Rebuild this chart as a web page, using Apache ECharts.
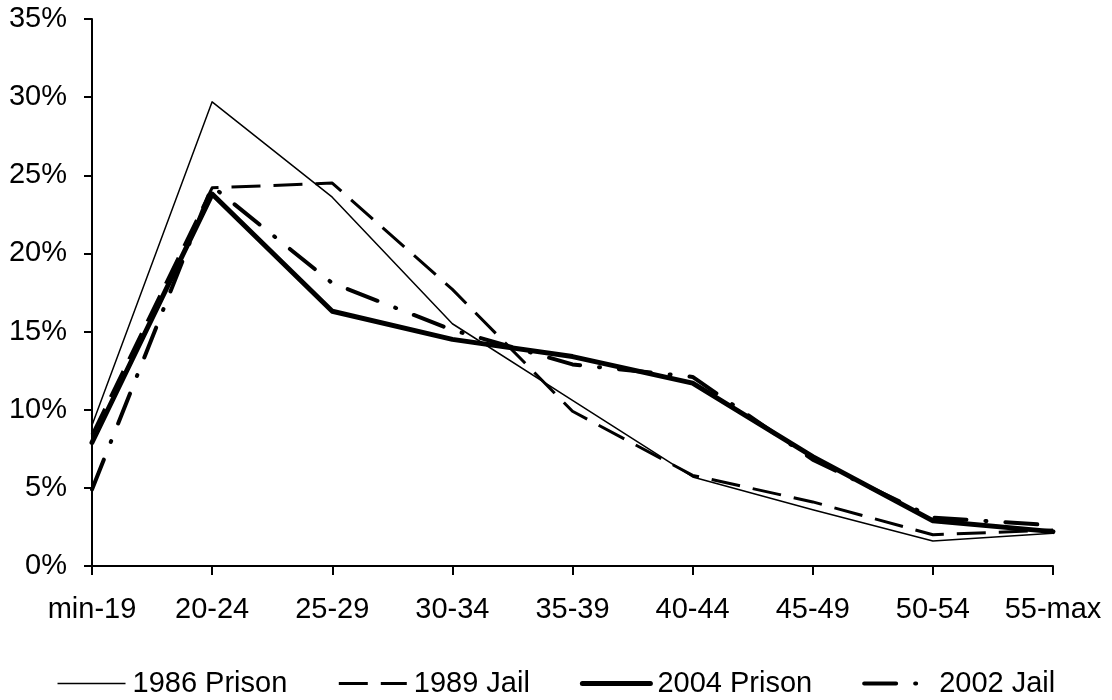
<!DOCTYPE html>
<html>
<head>
<meta charset="utf-8">
<script src="https://cdn.jsdelivr.net/npm/echarts@6/dist/echarts.min.js"></script>
<style>html,body{margin:0;padding:0;background:#fff}#c{width:1112px;height:700px}</style>
</head>
<body>
<div id="c"></div>
<script>
var categories = ['min-19','20-24','25-29','30-34','35-39','40-44','45-49','50-54','55-max'];
var prison1986 = [9.0, 29.7, 23.6, 15.5, 10.6, 5.7, 3.6, 1.6, 2.1];
var jail1989   = [8.4, 24.2, 24.5, 17.7, 9.9, 5.8, 4.1, 2.0, 2.3];
var prison2004 = [7.9, 23.8, 16.3, 14.5, 13.4, 11.7, 7.0, 2.9, 2.2];
var jail2002   = [4.9, 24.3, 18.1, 15.1, 12.9, 12.1, 6.8, 3.1, 2.6];
var seriesNames = ['1986 Prison','1989 Jail','2004 Prison','2002 Jail'];

var font = 'Liberation Sans, Arial, sans-serif';
var styles = [
  {width: 1.5, type: 'solid', cap: 'butt'},
  {width: 3, type: [29, 13], cap: 'butt'},
  {width: 5, type: 'solid', cap: 'round'},
  {width: 4, type: [32, 19, 1, 19], cap: 'round'}
];
var chart = echarts.init(document.getElementById('c'), null, {renderer:'canvas'});
function mk(i, data) {
  var s = styles[i];
  return {
    name: seriesNames[i], type: 'line', data: data, symbol: 'none', smooth: false,
    lineStyle: {color:'#000', width: s.width, type: s.type, cap: s.cap, join: 'round'},
    itemStyle: {color:'#000'},
    emphasis: {disabled: true}, animation: false
  };
}
chart.setOption({
  animation: false,
  backgroundColor: '#fff',
  grid: {left: 92, right: 59, top: 19, bottom: 134, containLabel: false},
  legend: {
    data: seriesNames.map(function (n, i) {
      var s = styles[i];
      return {name: n, itemStyle: {opacity: 0},
        lineStyle: {color: '#000', width: s.width, type: s.type, cap: s.cap}};
    }),
    left: 'center', top: 664, itemWidth: 68, itemHeight: 14, itemGap: 50,
    textStyle: {fontFamily: font, fontSize: 29, color: '#000', padding: [0,0,0,2]},
    selectedMode: false
  },
  xAxis: {
    type: 'category', data: categories, boundaryGap: false,
    axisLine: {show: true, lineStyle: {color: '#000', width: 2}},
    axisTick: {show: true, length: 9, lineStyle: {color: '#000', width: 2}, interval: 0},
    axisLabel: {fontFamily: font, fontSize: 29, color: '#000', margin: 29, interval: 0},
    splitLine: {show: false}
  },
  yAxis: {
    type: 'value', min: 0, max: 35, interval: 5,
    axisLine: {show: true, lineStyle: {color: '#000', width: 2}},
    axisTick: {show: true, length: 8, lineStyle: {color: '#000', width: 2}},
    axisLabel: {fontFamily: font, fontSize: 29, color: '#000', margin: 25, formatter: '{value}%'},
    splitLine: {show: false}
  },
  series: [
    mk(0, prison1986),
    mk(1, jail1989),
    mk(2, prison2004),
    mk(3, jail2002)
  ]
});
</script>
</body>
</html>
